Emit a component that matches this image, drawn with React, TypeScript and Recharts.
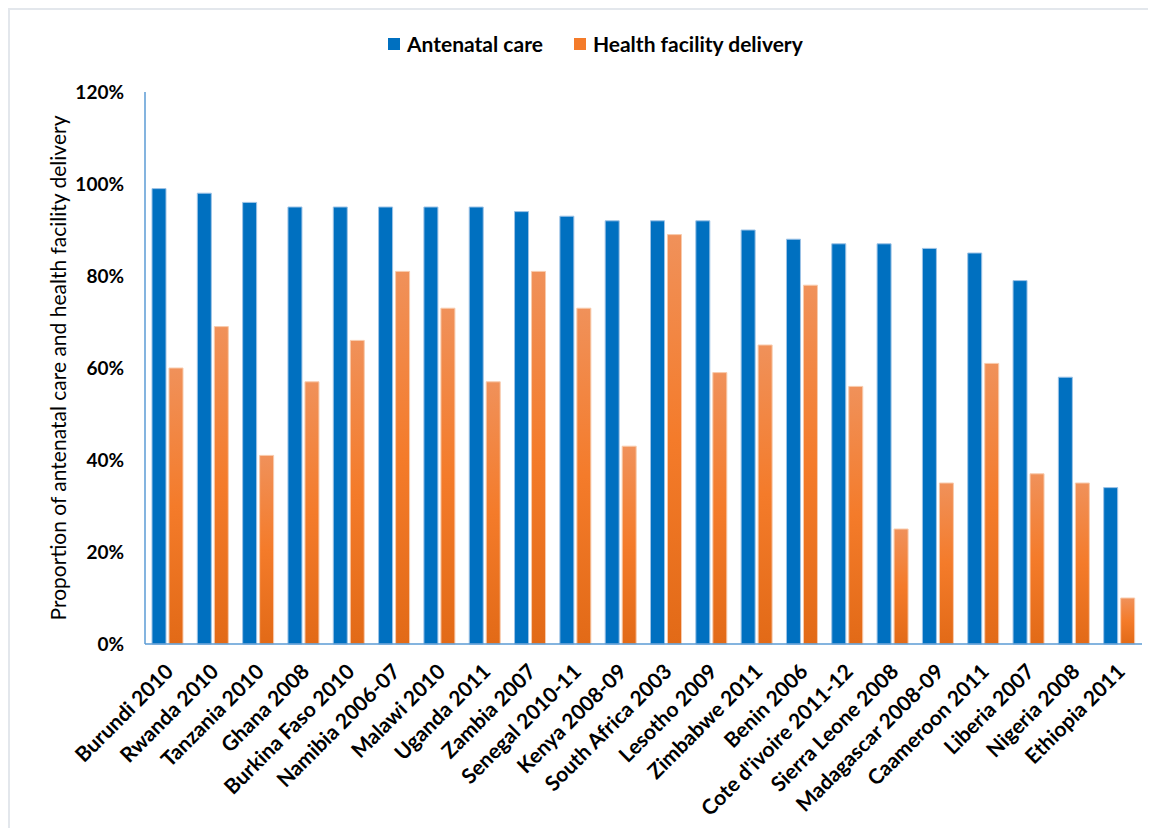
import React from 'react';
import { BarChart, Bar, XAxis, YAxis } from 'recharts';

// survey labels, left to right
const countries = [
  'Burundi 2010', 'Rwanda 2010', 'Tanzania 2010', 'Ghana 2008', 'Burkina Faso 2010',
  'Namibia 2006-07', 'Malawi 2010', 'Uganda 2011', 'Zambia 2007', 'Senegal 2010-11',
  'Kenya 2008-09', 'South Africa 2003', 'Lesotho 2009', 'Zimbabwe 2011', 'Benin 2006',
  "Cote d'ivoire 2011-12", 'Sierra Leone 2008', 'Madagascar 2008-09', 'Caameroon 2011',
  'Liberia 2007', 'Nigeria 2008', 'Ethiopia 2011',
];
const antenatal = [99, 98, 96, 95, 95, 95, 95, 95, 94, 93, 92, 92, 92, 90, 88, 87, 87, 86, 85, 79, 58, 34];
const facility = [60, 69, 41, 57, 66, 81, 73, 57, 81, 73, 43, 89, 59, 65, 78, 56, 25, 35, 61, 37, 35, 10];
const yTicks = [0, 20, 40, 60, 80, 100, 120];

const data = countries.map((name, i) => ({ name, antenatal: antenatal[i], facility: facility[i] }));

const FONT = 'Lato, "Noto Sans", sans-serif';
const BLUE = '#0070c0';
const AXIS = '#5b9bd5';

const XTick = (props: any) => {
  const { x, y, payload } = props;
  return (
    <g transform={`translate(${x + 7},${y + 29}) rotate(-45)`}>
      <text x={0} y={0} textAnchor="end" fontFamily={FONT} fontWeight={700} fontSize={21} fill="#000">
        {payload.value}
      </text>
    </g>
  );
};

const YTitle = (props: any) => {
  const { viewBox } = props;
  const cx = viewBox.x + 47;
  const cy = viewBox.y + viewBox.height / 2;
  return (
    <text x={cx} y={cy} transform={`rotate(-90,${cx},${cy})`} textAnchor="middle" dominantBaseline="central"
      fontFamily={FONT} fontSize={21} fill="#000">
      Proportion of antenatal care and health facility delivery
    </text>
  );
};

const LegendItem = ({ color, label }: { color: string; label: string }) => (
  <span style={{ display: 'inline-flex', alignItems: 'center', marginRight: 31 }}>
    <span style={{ width: 12, height: 12, background: color, display: 'inline-block', marginRight: 7 }} />
    <span>{label}</span>
  </span>
);

export default function App() {
  return (
    <div style={{ position: 'relative', width: 1146, height: 818, borderTop: '2px solid #e3e7ec', borderLeft: '2px solid #e3e7ec', background: '#fff' }}>
      <div style={{ position: 'absolute', top: 22, left: 378, lineHeight: '24px', fontFamily: FONT, fontWeight: 700, fontSize: 21, color: '#000', whiteSpace: 'nowrap', display: 'flex' }}>
        <LegendItem color={BLUE} label="Antenatal care" />
        <LegendItem color="#f47b2a" label="Health facility delivery" />
      </div>
      <BarChart width={1146} height={810} data={data} margin={{ top: 82, right: 14, bottom: 0, left: 0 }}
        barSize={14} barGap={3}>
        <defs>
          <linearGradient id="orangeGrad" x1="0" y1="0" x2="0" y2="1">
            <stop offset="0%" stopColor="#f0915a" />
            <stop offset="50%" stopColor="#f47b2a" />
            <stop offset="100%" stopColor="#e26a17" />
          </linearGradient>
        </defs>
        <XAxis dataKey="name" interval={0} tickLine={false} tickSize={0} tickMargin={0} height={176}
          axisLine={{ stroke: AXIS, strokeWidth: 1.5 }} tick={<XTick />} />
        <YAxis domain={[0, 120]} ticks={yTicks} interval={0} width={135} tickLine={false} tickSize={0} tickMargin={21}
          axisLine={{ stroke: AXIS, strokeWidth: 1.5 }} tickFormatter={(v: number) => `${v}%`}
          tick={{ fontFamily: FONT, fontWeight: 700, fontSize: 19, fill: '#000' }}
          label={<YTitle />} />
        <Bar dataKey="antenatal" fill={BLUE} stroke="#9dc3e6" strokeWidth={1} isAnimationActive={false} />
        <Bar dataKey="facility" fill="url(#orangeGrad)" stroke="#f8cbad" strokeWidth={1} isAnimationActive={false} />
      </BarChart>
    </div>
  );
}
